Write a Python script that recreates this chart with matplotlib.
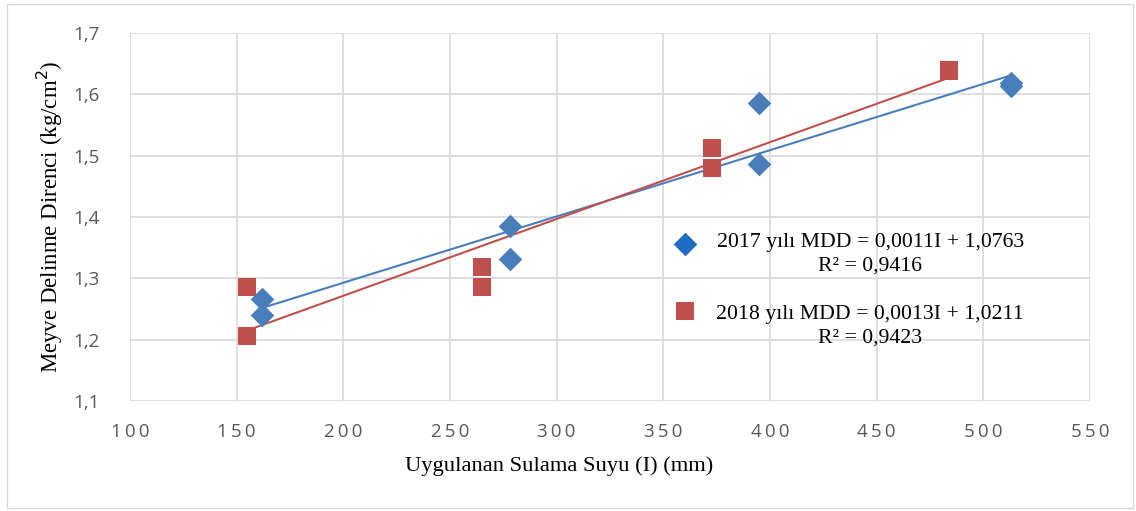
import numpy as np
import matplotlib
matplotlib.use("Agg")
import matplotlib.pyplot as plt
from matplotlib.patches import Rectangle

# Data
x2017 = [162, 162, 278, 278, 395, 395, 513, 513]
y2017 = [1.266, 1.240, 1.386, 1.332, 1.586, 1.486, 1.618, 1.613]
x2018 = [155, 155, 265, 265, 373, 373, 484, 484]
y2018 = [1.286, 1.206, 1.319, 1.286, 1.513, 1.480, 1.639, 1.638]
label2017 = ["2017 yılı MDD = 0,0011I + 1,0763", "R² = 0,9416"]
label2018 = ["2018 yılı MDD = 0,0013I + 1,0211", "R² = 0,9423"]
xticks = [100, 150, 200, 250, 300, 350, 400, 450, 500, 550]
yticks = [1.1, 1.2, 1.3, 1.4, 1.5, 1.6, 1.7]

blue = "#4A7EBB"
red = "#C0504D"

W, H = 1136, 511
fig = plt.figure(figsize=(W / 100, H / 100), dpi=100)
ax = fig.add_axes([130 / W, 1 - 401 / H, 960 / W, 368 / H])

# trend lines
for xs, ys, c in [(x2017, y2017, blue), (x2018, y2018, red)]:
    p = np.polyfit(xs, ys, 1)
    xl = np.array([min(xs), max(xs)])
    ax.plot(xl, np.polyval(p, xl), color=c, lw=1.5, zorder=2)

ax.scatter(x2018, y2018, marker="s", s=165, color=red, zorder=3, linewidths=0)
ax.scatter(x2017, y2017, marker="D", s=145, color=blue, zorder=4, linewidths=0)

ax.set_xlim(100, 550)
ax.set_ylim(1.1, 1.7)
ax.set_xticks(xticks)
ax.set_yticks(yticks)
ax.set_xticklabels(["\u2009".join(str(v)) for v in xticks])
ax.set_yticklabels([f"{v:.1f}".replace(".", ",") for v in yticks])
ax.tick_params(length=0, labelsize=13.5, labelcolor="#595959")
ax.tick_params(axis="y", pad=22)
ax.tick_params(axis="x", pad=16)
for lab in ax.get_xticklabels() + ax.get_yticklabels():
    lab.set_family("Open Sans")
ax.grid(True, color="#D9D9D9", lw=1.2)
ax.set_axisbelow(True)
for s in ax.spines.values():
    s.set_visible(False)

fig.text(50 / W, 1 - 217 / H, "Meyve Delinme Direnci (kg/cm$^2$)", family="Liberation Serif",
         fontsize=16.5, ha="center", va="center", rotation=90)
fig.text(559 / W, 1 - 466 / H, "Uygulanan Sulama Suyu (I) (mm)", family="Liberation Serif",
         fontsize=16.2, ha="center", va="center")

# legend drawn manually
ax.scatter([0.578], [0.427], marker="D", s=145, color="#1F6CC4", transform=ax.transAxes,
           clip_on=False, zorder=5, linewidths=0)
ax.scatter([0.578], [0.245], marker="s", s=165, color=red, transform=ax.transAxes,
           clip_on=False, zorder=5, linewidths=0)
tk = dict(family="Liberation Serif", fontsize=15.7, ha="center", va="center",
          transform=ax.transAxes, zorder=5)
ax.text(0.771, 0.432, label2017[0], **tk)
ax.text(0.771, 0.367, label2017[1], **tk)
ax.text(0.771, 0.234, label2018[0], **tk)
ax.text(0.771, 0.171, label2018[1], **tk)

fig.patches.append(Rectangle((7 / W, 3 / H), 1126 / W, 504 / H, transform=fig.transFigure,
                             fill=False, edgecolor="#D9D9D9", lw=1))

fig.savefig("out.png", dpi=100)
